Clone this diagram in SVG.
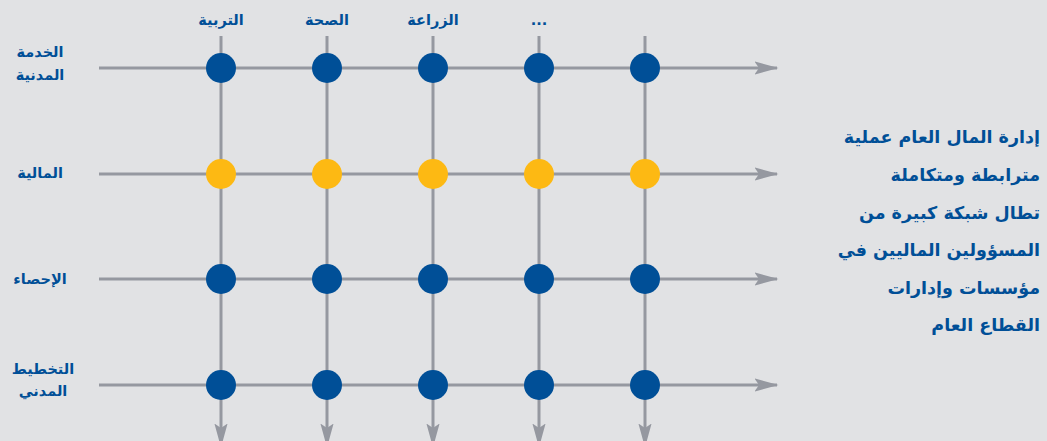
<svg xmlns="http://www.w3.org/2000/svg" width="1047" height="441" viewBox="0 0 1047 441">
<defs>
<style>
.bg{fill:#e1e2e4}
.ln{stroke:#9598a0;stroke-width:3;fill:none}
.b{fill:#004f97}
.y{fill:#fdb913}
.t{font-family:"DejaVu Sans","Noto Sans",sans-serif;font-weight:bold;fill:#004f97;direction:rtl}
.c{font-size:14.5px;text-anchor:middle}
.r{font-size:14.5px;text-anchor:middle}
.d{font-size:17.5px;text-anchor:start}
</style>
<marker id="ah" markerWidth="8" markerHeight="4.4" refX="7.5" refY="2.2" orient="auto" markerUnits="strokeWidth">
<path d="M0,0 L8,2.2 L0,4.4 L1.5,2.2 Z" fill="#9598a0"/>
</marker>
</defs>
<rect class="bg" width="1047" height="441"/>
<g id="connectors">
<line class="ln" x1="99" y1="68" x2="777" y2="68" marker-end="url(#ah)"/>
<line class="ln" x1="99" y1="174" x2="777" y2="174" marker-end="url(#ah)"/>
<line class="ln" x1="99" y1="279" x2="777" y2="279" marker-end="url(#ah)"/>
<line class="ln" x1="99" y1="385" x2="777" y2="385" marker-end="url(#ah)"/>
<line class="ln" x1="221" y1="36" x2="221" y2="446" marker-end="url(#ah)"/>
<line class="ln" x1="327" y1="36" x2="327" y2="446" marker-end="url(#ah)"/>
<line class="ln" x1="433" y1="36" x2="433" y2="446" marker-end="url(#ah)"/>
<line class="ln" x1="539" y1="36" x2="539" y2="446" marker-end="url(#ah)"/>
<line class="ln" x1="645" y1="36" x2="645" y2="446" marker-end="url(#ah)"/>
</g>
<g id="col-labels">
<text class="t c" x="221" y="25">التربية</text>
<text class="t c" x="327" y="25">الصحة</text>
<text class="t c" x="433" y="25">الزراعة</text>
<text class="t c" x="539" y="25">...</text>
</g>
<g id="row-labels">
<text class="t r" x="40" y="57">الخدمة</text>
<text class="t r" x="40" y="80">المدنية</text>
<text class="t r" x="40" y="178">المالية</text>
<text class="t r" x="40" y="284">الإحصاء</text>
<text class="t r" x="43" y="374">التخطيط</text>
<text class="t r" x="43" y="396">المدني</text>
</g>
<g id="nodes">
<g id="n-r1"><circle class="b" cx="221" cy="68" r="15"/><circle class="b" cx="327" cy="68" r="15"/><circle class="b" cx="433" cy="68" r="15"/><circle class="b" cx="539" cy="68" r="15"/><circle class="b" cx="645" cy="68" r="15"/></g>
<g id="n-r2"><circle class="y" cx="221" cy="174" r="15"/><circle class="y" cx="327" cy="174" r="15"/><circle class="y" cx="433" cy="174" r="15"/><circle class="y" cx="539" cy="174" r="15"/><circle class="y" cx="645" cy="174" r="15"/></g>
<g id="n-r3"><circle class="b" cx="221" cy="279" r="15"/><circle class="b" cx="327" cy="279" r="15"/><circle class="b" cx="433" cy="279" r="15"/><circle class="b" cx="539" cy="279" r="15"/><circle class="b" cx="645" cy="279" r="15"/></g>
<g id="n-r4"><circle class="b" cx="221" cy="385" r="15"/><circle class="b" cx="327" cy="385" r="15"/><circle class="b" cx="433" cy="385" r="15"/><circle class="b" cx="539" cy="385" r="15"/><circle class="b" cx="645" cy="385" r="15"/></g>
</g>
<g id="description">
<text class="t d" x="1040" y="143">إدارة المال العام عملية</text>
<text class="t d" x="1040" y="181">مترابطة ومتكاملة</text>
<text class="t d" x="1040" y="219">تطال شبكة كبيرة من</text>
<text class="t d" x="1040" y="256">المسؤولين الماليين في</text>
<text class="t d" x="1040" y="294">مؤسسات وإدارات</text>
<text class="t d" x="1040" y="331">القطاع العام</text>
</g>
</svg>
